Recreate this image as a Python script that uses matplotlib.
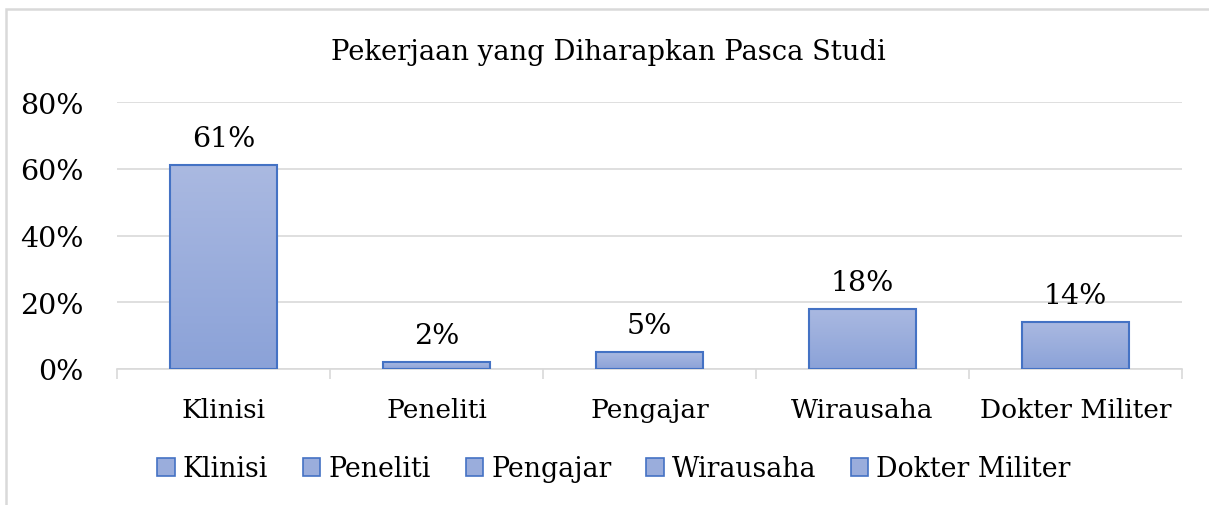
import numpy as np
import matplotlib
matplotlib.use("Agg")
import matplotlib.pyplot as plt
from matplotlib.patches import Patch, Rectangle
from matplotlib.ticker import FuncFormatter

# -------------------------------------------------
# Data
# -------------------------------------------------
categories = ["Klinisi", "Peneliti", "Pengajar", "Wirausaha", "Dokter Militer"]
values = [61, 2, 5, 18, 14]
title = "Pekerjaan yang Diharapkan Pasca Studi"

plt.rcParams["font.family"] = ["DejaVu Serif"]

fig = plt.figure(figsize=(12.09, 5.06), dpi=100)
ax = fig.add_axes([117 / 1209, 1 - 370 / 506, (1182 - 117) / 1209, (370 - 103) / 506])

x = np.arange(len(categories))
bars = ax.bar(x, values, width=0.5, color="none", edgecolor="#4472C4", linewidth=1.5, zorder=3)

# vertical gradient fill inside each bar
grad = np.linspace(0, 1, 256).reshape(-1, 1)
cmap = matplotlib.colors.LinearSegmentedColormap.from_list("g", ["#8BA2D8", "#AAB9E1"])
for b in bars:
    im = ax.imshow(grad, cmap=cmap, aspect="auto", origin="lower",
                   extent=[b.get_x(), b.get_x() + b.get_width(), 0, b.get_height()], zorder=2)
    im.set_clip_path(b)

for xi, v in zip(x, values):
    ax.text(xi, v + 4.0, f"{v}%", ha="center", va="bottom", fontsize=20.5)

ax.set_xlim(-0.5, len(categories) - 0.5)
ax.set_ylim(0, 80)
ax.set_yticks([0, 20, 40, 60, 80])
ax.yaxis.set_major_formatter(FuncFormatter(lambda v, p: f"{int(v)}%"))
ax.grid(axis="y", color="#D9D9D9", linewidth=1.2, zorder=0)
ax.set_axisbelow(True)
for s in ["top", "right", "left"]:
    ax.spines[s].set_visible(False)
ax.spines["bottom"].set_color("#D9D9D9")
ax.spines["bottom"].set_linewidth(1.2)

ax.set_xticks(x)
ax.set_xticklabels(categories, fontsize=19)
ax.set_xticks(np.arange(-0.5, len(categories)), minor=True)
ax.tick_params(axis="x", which="major", length=0, pad=20)
ax.tick_params(axis="x", which="minor", length=7, color="#D9D9D9", width=1.2)
ax.tick_params(axis="y", length=0, labelsize=20.5, pad=24)

fig.text(608 / 1209, 1 - 52 / 506, title, ha="center", va="center", fontsize=19.7)

handles = [Patch(facecolor="#9AADDC", edgecolor="#4472C4", linewidth=1.2) for _ in categories]
fig.legend(handles, categories, loc="center", bbox_to_anchor=(614 / 1209, 1 - 470 / 506),
           ncol=5, frameon=False, fontsize=19.3, handlelength=0.65, handleheight=0.65,
           handletextpad=0.3, columnspacing=1.3)

# chart border (left and top visible)
fig.add_artist(Rectangle((6 / 1209, -0.05), 1.5, 1 - 10 / 506 + 0.05, transform=fig.transFigure,
                         fill=False, edgecolor="#D9D9D9", linewidth=1.8))

fig.savefig("out.png", dpi=100)
